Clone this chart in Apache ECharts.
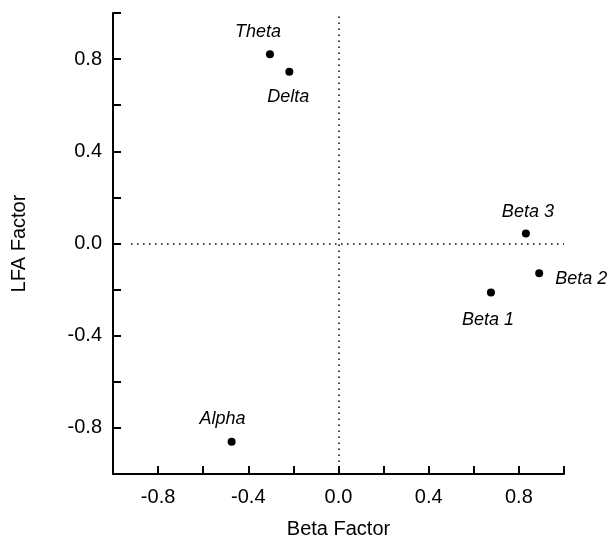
<!DOCTYPE html>
<html>
<head>
<meta charset="utf-8">
<script src="https://cdn.jsdelivr.net/npm/echarts@6/dist/echarts.min.js"></script>
<style>
  html, body { margin: 0; padding: 0; background: #fff; }
  #chart { width: 609px; height: 544px; }
</style>
</head>
<body>
<div id="chart"></div>
<script>
// factor loadings
const bandNames = ['Theta', 'Delta', 'Beta 3', 'Beta 2', 'Beta 1', 'Alpha']
const betaFactor = [-0.304, -0.218, 0.831, 0.890, 0.676, -0.474]
const lfaFactor = [0.821, 0.745, 0.043, -0.129, -0.213, -0.860]

const xTickLabels = ['-0.8', '-0.4', '0.0', '0.4', '0.8']
const yTickLabels = ['-0.8', '-0.4', '0.0', '0.4', '0.8']

// where each name sits next to its dot
const labelPlacement = {
  'Theta': { position: 'inside', offset: [-12, -22] },
  'Delta': { position: 'inside', offset: [-1, 25] },
  'Beta 3': { position: 'inside', offset: [2, -22] },
  'Beta 2': { position: 'right', distance: 12, offset: [0, 6] },
  'Beta 1': { position: 'inside', offset: [-3, 27] },
  'Alpha': { position: 'inside', offset: [-9, -23] }
}

const font = 'Liberation Sans, Arial, sans-serif'

function tickFormatter(list) {
  return function(v) {
    const s = v.toFixed(1) === '-0.0' ? '0.0' : v.toFixed(1)
    return list.indexOf(s) >= 0 ? s : ''
  }
}

function axisBase() {
  return {
    type: 'value',
    min: -1,
    max: 1,
    interval: 0.2,
    nameLocation: 'middle',
    nameTextStyle: { fontFamily: font, fontSize: 20, color: '#000' },
    axisLine: { show: true, onZero: false, lineStyle: { color: '#000', width: 2 } },
    axisTick: { show: true, inside: true, length: 8, lineStyle: { color: '#000', width: 2 } },
    splitLine: { show: false }
  }
}

const chart = echarts.init(document.getElementById('chart'))

const points = bandNames.map((n, i) => ({
  name: n,
  value: [betaFactor[i], lfaFactor[i]],
  label: Object.assign({}, labelPlacement[n])
}))

chart.setOption({
  animation: false,
  backgroundColor: '#fff',
  grid: { left: 113, right: 45, top: 13, bottom: 70 },
  xAxis: Object.assign(axisBase(), {
    name: 'Beta Factor',
    nameGap: 45,
    axisLabel: {
      margin: 13,
      fontFamily: font,
      fontSize: 20,
      color: '#000',
      showMinLabel: true,
      showMaxLabel: true,
      formatter: tickFormatter(xTickLabels)
    }
  }),
  yAxis: Object.assign(axisBase(), {
    name: 'LFA Factor',
    nameGap: 84,
    axisLabel: {
      margin: 11,
      fontFamily: font,
      fontSize: 20,
      color: '#000',
      showMinLabel: true,
      showMaxLabel: true,
      formatter: tickFormatter(yTickLabels)
    }
  }),
  series: [{
    type: 'scatter',
    symbol: 'circle',
    symbolSize: 8,
    itemStyle: { color: '#000', opacity: 1 },
    label: {
      show: true,
      formatter: '{b}',
      fontFamily: font,
      fontStyle: 'italic',
      fontSize: 18,
      color: '#000'
    },
    emphasis: { disabled: true },
    data: points,
    markLine: {
      silent: true,
      symbol: ['none', 'none'],
      label: { show: false },
      lineStyle: { color: '#000', width: 1.5, type: [1.5, 4.5], opacity: 1 },
      data: [
        [{ coord: [-0.92, 0] }, { coord: [1, 0] }],
        [{ coord: [0, -1] }, { coord: [0, 1] }]
      ]
    }
  }]
})
</script>
</body>
</html>
